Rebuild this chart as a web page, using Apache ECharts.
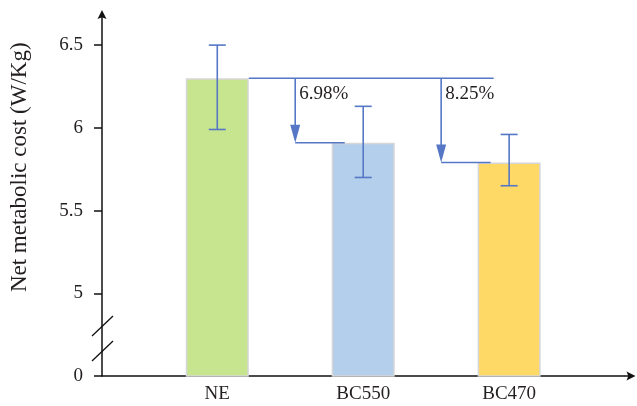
<!DOCTYPE html>
<html>
<head>
<meta charset="utf-8">
<script src="https://cdn.jsdelivr.net/npm/echarts@6/dist/echarts.min.js"></script>
<style>html,body{margin:0;padding:0;background:#fff;}#c{width:637px;height:406px;}</style>
</head>
<body>
<div id="c"></div>
<script>
// ---- data ----
var categories = ['NE', 'BC550', 'BC470'];
var meanValues = [6.30, 5.91, 5.79];
var errLow = [5.99, 5.70, 5.65];
var errHigh = [6.50, 6.13, 5.96];
var reductionLabels = ['', '6.98%', '8.25%'];
var yTickValues = [4.5, 5, 5.5, 6, 6.5];
var yTickLabels = ['0', '5', '5.5', '6', '6.5'];
var barColors = ['#c7e58f', '#b4cfeb', '#ffd966'];

var FONT = '"Liberation Serif", "DejaVu Serif", serif';
var BLUE = '#5577c6';
var BAR_W = 63;

var chart = echarts.init(document.getElementById('c'), null, {renderer: 'canvas'});

var barData = categories.map(function (c, i) {
  return {value: [i, meanValues[i]], itemStyle: {color: barColors[i]}};
});
var errData = categories.map(function (c, i) { return [i, errLow[i], errHigh[i]]; });
var annoData = categories.map(function (c, i) { return [i, meanValues[i]]; }).slice(1);

var ARROW = 'path://M0,0 L10,20 L0,16 L-10,20 Z';

var option = {
  animation: false,
  backgroundColor: '#fff',
  grid: {left: 102, top: 14.5, right: 6, bottom: 30, containLabel: false, outerBoundsMode: 'none'},
  xAxis: {
    type: 'value',
    min: -0.79,
    max: 2.835,
    splitLine: {show: false},
    axisLine: {show: true, onZero: false, symbol: ['none', ARROW], symbolSize: [9, 13], lineStyle: {color: '#111', width: 1.5}},
    axisTick: {show: false},
    axisLabel: {
      show: true,
      customValues: [0, 1, 2],
      formatter: function (v) { return categories[Math.round(v)] || ''; },
      color: '#231f20', fontFamily: FONT, fontSize: 19, margin: 9
    }
  },
  yAxis: {
    type: 'value',
    min: 4.5,
    max: 6.685,
    splitLine: {show: false},
    name: 'Net metabolic cost (W/Kg)',
    nameLocation: 'middle',
    nameGap: 71,
    nameTextStyle: {color: '#231f20', fontFamily: FONT, fontSize: 23, padding: [0, 0, 0, 56]},
    axisLine: {show: true, onZero: false, symbol: ['none', ARROW], symbolSize: [9, 15], lineStyle: {color: '#111', width: 1.5}},
    axisTick: {show: true, inside: false, length: 8, customValues: yTickValues, lineStyle: {color: '#111', width: 1.5}},
    axisLabel: {
      show: true,
      customValues: yTickValues,
      formatter: function (v) {
        for (var k = 0; k < yTickValues.length; k++) { if (Math.abs(yTickValues[k] - v) < 1e-6) return yTickLabels[k]; }
        return '';
      },
      color: '#231f20', fontFamily: FONT, fontSize: 19, margin: 19
    }
  },
  series: [
    {
      type: 'bar',
      data: barData,
      barWidth: BAR_W,
      clip: true,
      itemStyle: {borderColor: '#d6d6d6', borderWidth: 1.5},
      z: 2
    },
    {
      type: 'custom',
      data: errData,
      z: 5,
      renderItem: function (params, api) {
        var x = api.value(0);
        var top = api.coord([x, api.value(2)]);
        var bot = api.coord([x, api.value(1)]);
        var cap = 8.5;
        var st = {stroke: BLUE, lineWidth: 1.6};
        return {
          type: 'group',
          children: [
            {type: 'line', shape: {x1: top[0], y1: top[1], x2: bot[0], y2: bot[1]}, style: st},
            {type: 'line', shape: {x1: top[0] - cap, y1: top[1], x2: top[0] + cap, y2: top[1]}, style: st},
            {type: 'line', shape: {x1: bot[0] - cap, y1: bot[1], x2: bot[0] + cap, y2: bot[1]}, style: st}
          ]
        };
      }
    },
    {
      type: 'custom',
      data: annoData,
      z: 6,
      renderItem: function (params, api) {
        var i = api.value(0);
        var base = api.coord([0, meanValues[0]]);
        var tgt = api.coord([i, api.value(1)]);
        var st = {stroke: BLUE, lineWidth: 1.6};
        var leftEdge = tgt[0] - BAR_W / 2;
        var ax = leftEdge - 36.5;
        var children = [];
        if (params.dataIndex === annoData.length - 1) {
          children.push({type: 'line', shape: {x1: base[0] + BAR_W / 2, y1: base[1], x2: leftEdge + 16, y2: base[1]}, style: st});
        }
        children.push({type: 'line', shape: {x1: ax, y1: base[1], x2: ax, y2: tgt[1] - 14}, style: st});
        children.push({type: 'polygon', shape: {points: [[ax - 5, tgt[1] - 18], [ax + 5, tgt[1] - 18], [ax, tgt[1]]]}, style: {fill: BLUE}});
        children.push({type: 'line', shape: {x1: ax, y1: tgt[1], x2: leftEdge + 13, y2: tgt[1]}, style: st});
        children.push({type: 'text', x: ax + 4, y: base[1] + 16, style: {text: reductionLabels[i], fill: '#231f20', font: '19px ' + FONT, textAlign: 'left', textVerticalAlign: 'middle'}});
        return {type: 'group', children: children};
      }
    }
  ],
  graphic: [
    {type: 'line', shape: {x1: 92, y1: 336, x2: 113, y2: 316}, style: {stroke: '#111', lineWidth: 1.3}, z: 10},
    {type: 'line', shape: {x1: 92, y1: 361, x2: 113, y2: 341}, style: {stroke: '#111', lineWidth: 1.3}, z: 10}
  ]
};
chart.setOption(option);
</script>
</body>
</html>
